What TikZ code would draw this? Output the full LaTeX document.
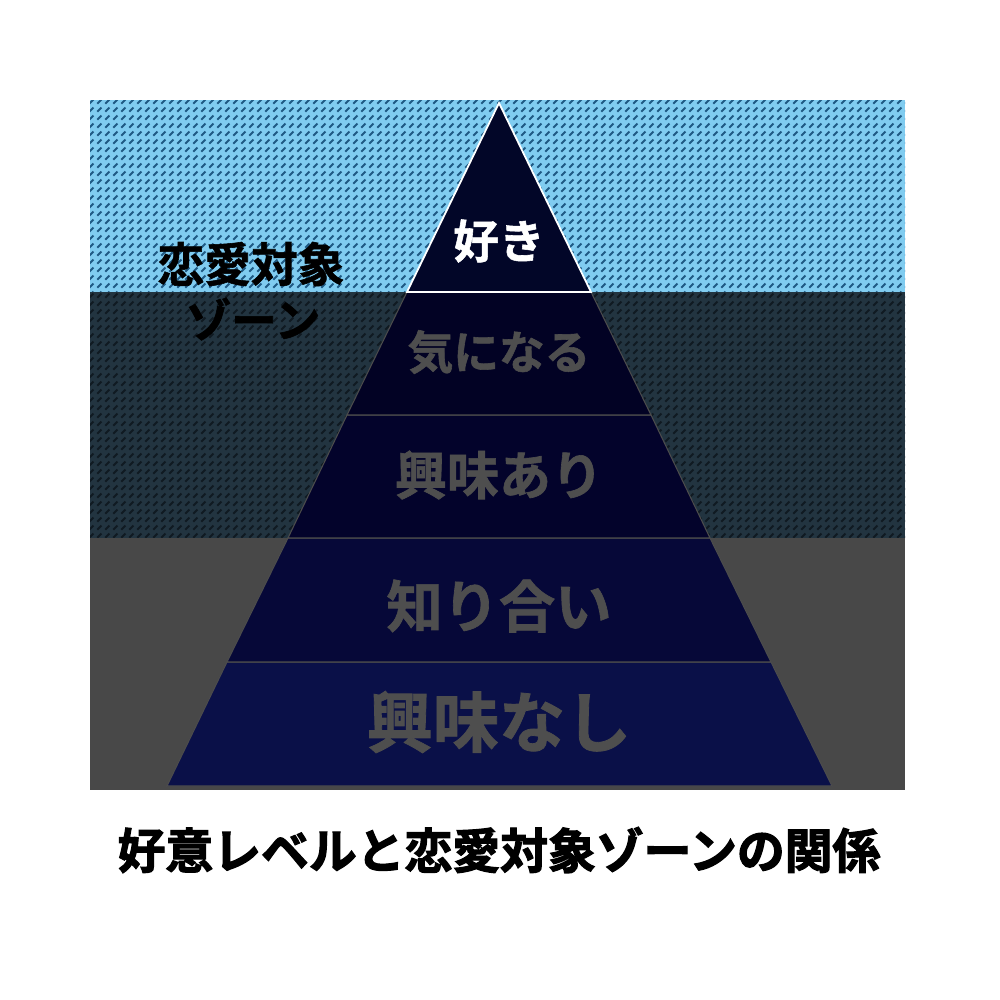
\documentclass[tikz,border=0pt]{standalone}
\usepackage{fontspec}
\newfontfamily\jpfont{Noto Sans CJK JP}[BoldFont={Noto Sans CJK JP Bold}, BoldFeatures={FakeBold=1.2}]
\newfontfamily\jpheavy{Noto Sans CJK JP Bold}[FakeBold=2.5]
\usetikzlibrary{patterns}

\definecolor{skyband}{HTML}{80CCF0}
\definecolor{skyhatch}{HTML}{1F5A84}
\definecolor{slateband}{HTML}{223440}
\definecolor{slatehatch}{HTML}{101A22}
\definecolor{greyband}{HTML}{484848}
\definecolor{levelA}{HTML}{020628}
\definecolor{levelB}{HTML}{020224}
\definecolor{levelC}{HTML}{03032B}
\definecolor{levelD}{HTML}{060838}
\definecolor{levelE}{HTML}{0A1048}
\definecolor{dimtext}{HTML}{4E4E4E}

\pgfdeclarepatternformonly{dashhatch}{\pgfpointorigin}{\pgfqpoint{2.3pt}{2.3pt}}{\pgfqpoint{2.3pt}{2.3pt}}{
  \pgfsetlinewidth{0.6pt}
  \pgfpathmoveto{\pgfqpoint{0.4pt}{0.4pt}}
  \pgfpathlineto{\pgfqpoint{1.7pt}{1.7pt}}
  \pgfusepath{stroke}
}

\tikzset{
  level/.style={fill=#1, draw=gray!60!black, line width=0.3pt},
  tag/.style={font=\jpfont\bfseries\fontsize{#1}{#1}\selectfont, text=dimtext, inner sep=0pt}
}

\begin{document}
\begin{tikzpicture}[x=0.01cm, y=-0.01cm]
  \useasboundingbox (0,0) rectangle (1000,1000);
  \fill[white] (0,0) rectangle (1000,1000);

  % zones
  \fill[skyband] (90,100) rectangle (905,292);
  \fill[pattern=dashhatch, pattern color=skyhatch] (90,100) rectangle (905,292);
  \fill[slateband] (90,292) rectangle (905,538);
  \fill[pattern=dashhatch, pattern color=slatehatch] (90,292) rectangle (905,538);
  \fill[greyband] (90,538) rectangle (905,790);

  % pyramid
  \draw[level=levelE] (227,662) -- (771,662) -- (832,786) -- (167,786) -- cycle;
  \draw[level=levelD] (288,538) -- (710,538) -- (771,662) -- (227,662) -- cycle;
  \draw[level=levelC] (347,415) -- (651,415) -- (710,538) -- (288,538) -- cycle;
  \draw[level=levelB] (407,292) -- (591,292) -- (651,415) -- (347,415) -- cycle;
  \draw[level=levelA, draw=white, line width=0.5pt] (499,103) -- (591,292) -- (407,292) -- cycle;

  \node[tag=13pt, text=white] (like) at (499,241) {好き};
  \node[tag=13pt] (curious) at (499,352) {気になる};
  \node[tag=14.8pt] (interest) at (499,475) {興味あり};
  \node[tag=16pt] (acquaint) at (499,606) {知り合い};
  \node[tag=18.8pt] (nointerest) at (499,722) {興味なし};

  \node[tag=13.3pt, text=black] (zoneA) at (251,264) {恋愛対象};
  \node[tag=13pt, text=black] (zoneB) at (253,319) {ゾーン};

  \node[inner sep=0pt, font=\jpheavy\fontsize{13.6pt}{13.6pt}\selectfont] (caption) at (499,850) {好意レベルと恋愛対象ゾーンの関係};
\end{tikzpicture}
\end{document}
